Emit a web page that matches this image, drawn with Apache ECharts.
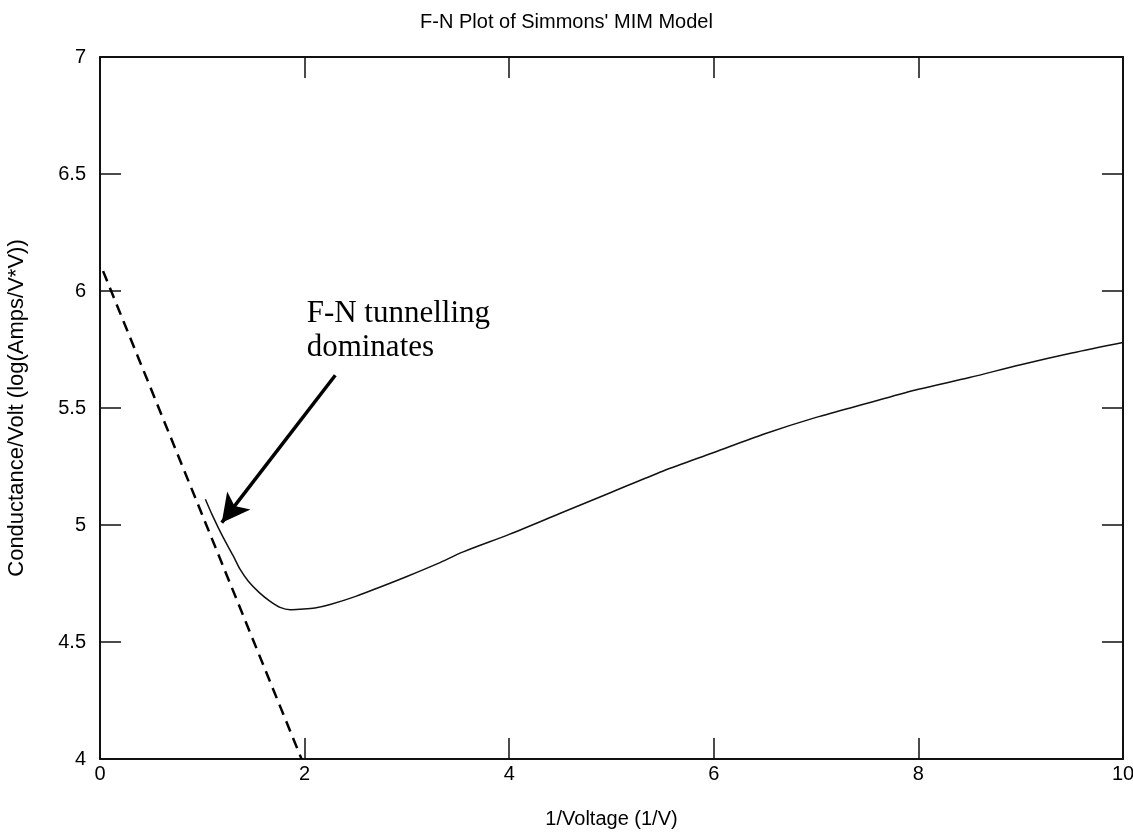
<!DOCTYPE html>
<html>
<head>
<meta charset="utf-8">
<script src="https://cdn.jsdelivr.net/npm/echarts@6/dist/echarts.min.js"></script>
<style>html,body{margin:0;padding:0;background:#fff}#c{width:1133px;height:833px}</style>
</head>
<body>
<div id="c"></div>
<script>
// Simmons' MIM model curve (x = 1/V, y = log conductance/volt)
const curveX = [1.03, 1.10, 1.20, 1.30, 1.37, 1.45, 1.56, 1.66, 1.76, 1.86, 1.955, 2.10, 2.25, 2.50, 2.74, 3.00, 3.30, 3.55, 4.00, 4.50, 5.00, 5.50, 6.00, 6.50, 7.00, 7.50, 8.00, 8.50, 9.00, 9.50, 10.0];
const curveY = [5.11, 5.04, 4.95, 4.87, 4.81, 4.76, 4.71, 4.675, 4.648, 4.638, 4.640, 4.645, 4.660, 4.695, 4.735, 4.78, 4.835, 4.885, 4.96, 5.05, 5.14, 5.23, 5.31, 5.39, 5.46, 5.52, 5.58, 5.63, 5.685, 5.735, 5.78];
// F-N asymptote (dashed)
const fnX = [0.03, 1.97];
const fnY = [6.085, 4.00];
// Annotation
const noteText = "F-N tunnelling\ndominates";
const noteAt = [2.02, 5.975];
const arrowFrom = [2.30, 5.64];
const arrowTo = [1.19, 5.01];
// Axes
const xTicks = [0, 2, 4, 6, 8, 10];
const yTicks = [4, 4.5, 5, 5.5, 6, 6.5, 7];

const pair = (xs, ys) => xs.map((x, i) => [x, ys[i]]);
const chart = echarts.init(document.getElementById('c'), null, {renderer: 'canvas'});
const lineCol = '#111';
const sans = 'Liberation Sans, Arial, sans-serif';
const baseAxis = {
  axisLine: {show: true, onZero: false, lineStyle: {color: lineCol, width: 2}},
  axisTick: {show: true, inside: true, length: 21, lineStyle: {color: lineCol, width: 1.5}},
  splitLine: {show: false}
};
chart.setOption({
  animation: false,
  backgroundColor: '#fff',
  title: {
    text: "F-N Plot of Simmons' MIM Model", left: 'center', top: 7,
    textStyle: {fontFamily: sans, fontSize: 20, fontWeight: 'normal', color: '#000'}
  },
  grid: {left: 100, right: 10, top: 57, bottom: 74, containLabel: false, outerBoundsMode: 'none'},
  xAxis: [
    Object.assign({}, baseAxis, {
      type: 'value', position: 'bottom', min: xTicks[0], max: xTicks[xTicks.length - 1], interval: 2,
      name: '1/Voltage (1/V)', nameLocation: 'middle', nameGap: 50,
      nameTextStyle: {fontFamily: sans, fontSize: 20, color: '#000'},
      axisLabel: {margin: 5, fontFamily: sans, fontSize: 20, color: '#000'}
    }),
    Object.assign({}, baseAxis, {
      type: 'value', position: 'top', min: xTicks[0], max: xTicks[xTicks.length - 1], interval: 2,
      axisLabel: {show: false}
    })
  ],
  yAxis: [
    Object.assign({}, baseAxis, {
      type: 'value', position: 'left', min: yTicks[0], max: yTicks[yTicks.length - 1], interval: 0.5,
      name: 'Conductance/Volt (log(Amps/V*V))', nameLocation: 'middle', nameGap: 72,
      nameTextStyle: {fontFamily: sans, fontSize: 22, color: '#000'},
      axisLabel: {margin: 14, fontFamily: sans, fontSize: 20, color: '#000',
        formatter: v => String(v)}
    }),
    Object.assign({}, baseAxis, {
      type: 'value', position: 'right', min: yTicks[0], max: yTicks[yTicks.length - 1], interval: 0.5,
      axisLabel: {show: false}
    })
  ],
  series: [
    {
      type: 'line', xAxisIndex: 0, yAxisIndex: 0, data: pair(curveX, curveY),
      showSymbol: false, smooth: 0.3, lineStyle: {color: '#111', width: 1.5},
      markPoint: {
        symbol: 'rect', symbolSize: 0, silent: true,
        data: [{coord: noteAt, value: 0}],
        label: {show: true, position: 'inside', formatter: noteText, align: 'left', verticalAlign: 'top',
          fontFamily: 'Liberation Serif, Times New Roman, serif', fontSize: 31, lineHeight: 34, color: '#000'}
      },
      markLine: {
        silent: true, symbol: ['none', 'arrow'], symbolSize: [22, 28],
        label: {show: false},
        lineStyle: {color: '#000', width: 3.5, type: 'solid'},
        data: [[{coord: arrowFrom}, {coord: arrowTo}]]
      }
    },
    {
      type: 'line', xAxisIndex: 0, yAxisIndex: 0, data: pair(fnX, fnY),
      showSymbol: false, lineStyle: {color: '#000', width: 2.5, type: [11, 7]}
    }
  ]
});
</script>
</body>
</html>
